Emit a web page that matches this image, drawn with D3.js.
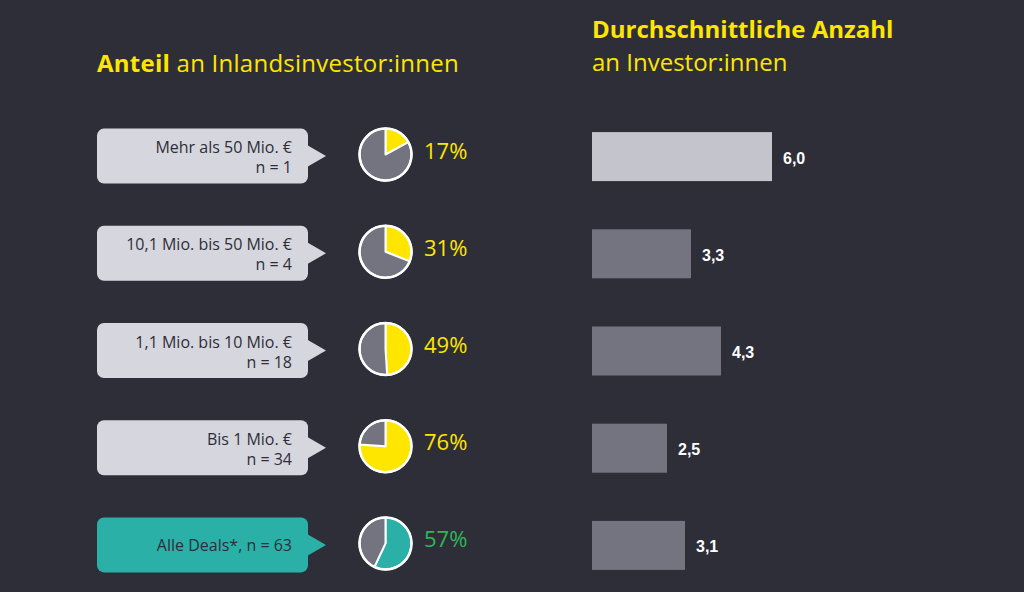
<!DOCTYPE html>
<html><head><meta charset="utf-8">
<script src="https://cdn.jsdelivr.net/npm/d3@7"></script>
<style>
html,body{margin:0;padding:0;background:#2e2e38;}
svg{display:block;}
</style></head>
<body>
<script>
const categories = ["Mehr als 50 Mio. €", "10,1 Mio. bis 50 Mio. €", "1,1 Mio. bis 10 Mio. €", "Bis 1 Mio. €", "Alle Deals*"];
const counts = [1, 4, 18, 34, 63];
const domesticShare = [17, 31, 49, 76, 57];
const avgInvestors = [6.0, 3.3, 4.3, 2.5, 3.1];
const highlight = [false, false, false, false, true];

const W = 1024, H = 592;
const bg = "#2e2e38", yellow = "#ffe600", grey = "#747480", light = "#d6d6de", teal = "#2bb0a8", green = "#2db757";

const svg = d3.select("body").append("svg").attr("width", W).attr("height", H);
svg.append("rect").attr("width", W).attr("height", H).attr("fill", bg);

const font = "'Open Sans', 'Noto Sans', sans-serif";

// Titles
const t1 = svg.append("text").attr("x", 97).attr("y", 72).attr("fill", yellow)
  .attr("font-family", font).attr("font-size", 24).attr("letter-spacing", 0.25);
t1.append("tspan").attr("font-weight", "bold").text("Anteil");
t1.append("tspan").text(" an Inlandsinvestor:innen");

svg.append("text").attr("x", 592).attr("y", 38).attr("fill", yellow)
  .attr("font-family", font).attr("font-size", 24).attr("font-weight", "bold")
  .text("Durchschnittliche Anzahl");
svg.append("text").attr("x", 592).attr("y", 71).attr("fill", yellow)
  .attr("font-family", font).attr("font-size", 24).text("an Investor:innen");

// Row scale
const y = d3.scaleBand().domain(d3.range(categories.length)).range([108, 594]).paddingInner(0).paddingOuter(0);
const rowC = i => y(i) + y.bandwidth() / 2;

// Bars
const x = d3.scaleLinear().domain([0, 6]).range([592, 772]);
const barH = 49;
svg.selectAll("rect.bar").data(avgInvestors).join("rect").attr("class", "bar")
  .attr("x", x(0)).attr("y", (d, i) => rowC(i) - barH / 2)
  .attr("width", d => x(d) - x(0)).attr("height", barH)
  .attr("fill", (d, i) => i === 0 ? "#c4c4cd" : grey);
svg.selectAll("text.val").data(avgInvestors).join("text").attr("class", "val")
  .attr("x", d => x(d) + 11).attr("y", (d, i) => rowC(i) + 7)
  .attr("fill", "#ffffff").attr("font-family", "'Liberation Sans', Arial, sans-serif")
  .attr("font-weight", "bold").attr("font-size", 16)
  .text(d => d3.format(".1f")(d).replace(".", ","));

// Callout boxes
const bx = 97, bw = 211, bh = 55;
categories.forEach((c, i) => {
  const cy = rowC(i) - 0.5;
  const fill = highlight[i] ? teal : light;
  const g = svg.append("g");
  g.append("rect").attr("x", bx).attr("y", cy - bh / 2).attr("width", bw).attr("height", bh)
    .attr("rx", 7).attr("fill", fill);
  g.append("path").attr("d", `M${bx + bw - 1},${cy - 11} L${bx + bw + 18},${cy} L${bx + bw - 1},${cy + 11} Z`).attr("fill", fill);
  if (highlight[i]) {
    g.append("text").attr("x", 292).attr("y", cy + 6).attr("text-anchor", "end")
      .attr("fill", bg).attr("font-family", font).attr("font-size", 16)
      .text(`${c}, n = ${counts[i]}`);
  } else {
    g.append("text").attr("x", 292).attr("y", cy - 3).attr("text-anchor", "end")
      .attr("fill", bg).attr("font-family", font).attr("font-size", 16).text(c);
    g.append("text").attr("x", 292).attr("y", cy + 17).attr("text-anchor", "end")
      .attr("fill", bg).attr("font-family", font).attr("font-size", 16).text(`n = ${counts[i]}`);
  }
});

// Pies
const arc = d3.arc().innerRadius(0).outerRadius(26);
const pie = d3.pie().sort(null).value(d => d);
domesticShare.forEach((p, i) => {
  const cy = rowC(i) - 2;
  const g = svg.append("g").attr("transform", `translate(385.5,${cy})`);
  const slices = pie([p, 100 - p]);
  g.selectAll("path").data(slices).join("path").attr("d", arc)
    .attr("fill", (d, j) => j === 0 ? (highlight[i] ? teal : yellow) : grey)
    .attr("stroke", "#ffffff").attr("stroke-width", 2).attr("stroke-linejoin", "round");
  g.append("circle").attr("r", 26).attr("fill", "none").attr("stroke", "#ffffff").attr("stroke-width", 2.5);
  svg.append("text").attr("x", 424).attr("y", cy + 4).attr("fill", highlight[i] ? green : yellow)
    .attr("font-family", font).attr("font-size", 22).text(p + "%");
});
</script>
</body></html>
